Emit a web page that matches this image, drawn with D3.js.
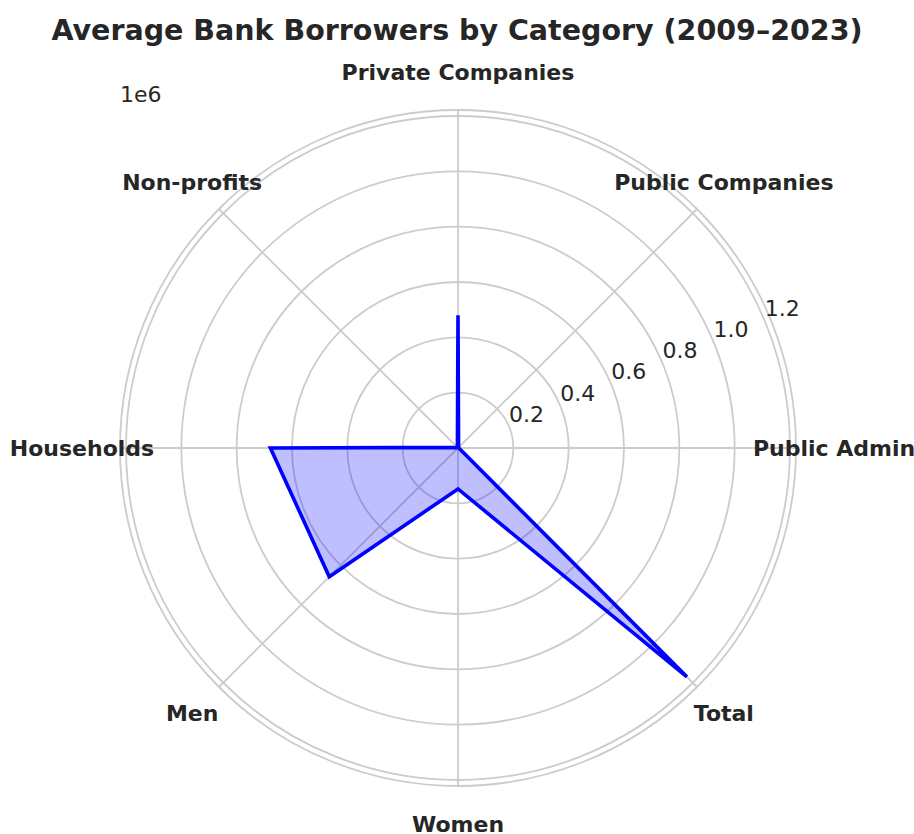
<!DOCTYPE html>
<html lang="en">
<head>
<meta charset="UTF-8">
<title>Average Bank Borrowers by Category</title>
<script src="https://d3js.org/d3.v7.min.js"></script>
<style>
  body { margin: 0; background: #fff; }
  text { font-family: "DejaVu Sans", sans-serif; fill: #262626; }
</style>
</head>
<body>
<svg width="914" height="834"></svg>
<script>
// categories in drawing order, counter-clockwise from east
var categories = ['Public Admin', 'Public Companies', 'Private Companies', 'Non-profits',
                  'Households', 'Men', 'Women', 'Total'];
var avgBorrowers = [3000, 3000, 480000, 3000, 678000, 658000, 148000, 1170000];
var ringTicks = [200000, 400000, 600000, 800000, 1000000, 1200000];
var ringLabels = ['0.2', '0.4', '0.6', '0.8', '1.0', '1.2'];

var svg = d3.select('svg');
var cx = 458, cy = 448;
var outerR = 332;

var rScale = d3.scaleLinear().domain([0, 1200000]).range([0, outerR]);
var angle = function(i) { return i * 2 * Math.PI / categories.length; };
var px = function(i, r) { return cx + r * Math.cos(angle(i)); };
var py = function(i, r) { return cy - r * Math.sin(angle(i)); };

var grid = svg.append('g');

grid.selectAll('.ring')
  .data(ringTicks)
  .enter().append('circle')
  .attr('cx', cx).attr('cy', cy)
  .attr('r', function(d) { return rScale(d); })
  .attr('fill', 'none')
  .attr('stroke', '#cccccc')
  .attr('stroke-width', 1.8);

// outer frame
grid.append('circle')
  .attr('cx', cx).attr('cy', cy)
  .attr('r', outerR + 6)
  .attr('fill', 'none')
  .attr('stroke', '#cccccc')
  .attr('stroke-width', 1.8);

grid.selectAll('.spoke')
  .data(categories)
  .enter().append('line')
  .attr('x1', cx).attr('y1', cy)
  .attr('x2', function(d, i) { return px(i, outerR + 6); })
  .attr('y2', function(d, i) { return py(i, outerR + 6); })
  .attr('stroke', '#cccccc')
  .attr('stroke-width', 1.8);

// data polygon
var line = d3.lineRadial()
  .angle(function(d, i) { return Math.PI / 2 - angle(i); })
  .radius(function(d) { return rScale(d); })
  .curve(d3.curveLinearClosed);

svg.append('path')
  .datum(avgBorrowers)
  .attr('transform', 'translate(' + cx + ',' + cy + ')')
  .attr('d', line)
  .attr('fill', 'rgba(0,0,255,0.25)')
  .attr('stroke', '#0000ff')
  .attr('stroke-width', 3.6)
  .attr('stroke-linejoin', 'miter');

// radial tick labels at 22.5 degrees
var labAng = 22.5 * Math.PI / 180;
svg.selectAll('.rlabel')
  .data(ringTicks)
  .enter().append('text')
  .attr('x', function(d) { return cx + rScale(d) * Math.cos(labAng); })
  .attr('y', function(d) { return cy - rScale(d) * Math.sin(labAng) - 5; })
  .attr('font-size', 22)
  .text(function(d, i) { return ringLabels[i]; });

svg.append('text')
  .attr('x', 120).attr('y', 102)
  .attr('font-size', 22)
  .text('1e6');

// category labels
svg.selectAll('.clabel')
  .data(categories)
  .enter().append('text')
  .attr('x', function(d, i) { return px(i, 376); })
  .attr('y', function(d, i) { return py(i, 376); })
  .attr('text-anchor', 'middle')
  .attr('dominant-baseline', 'central')
  .attr('font-size', 22)
  .attr('font-weight', 'bold')
  .text(function(d) { return d; });

svg.append('text')
  .attr('x', 457).attr('y', 40)
  .attr('text-anchor', 'middle')
  .attr('font-size', 28.5)
  .attr('font-weight', 'bold')
  .text('Average Bank Borrowers by Category (2009–2023)');
</script>
</body>
</html>
